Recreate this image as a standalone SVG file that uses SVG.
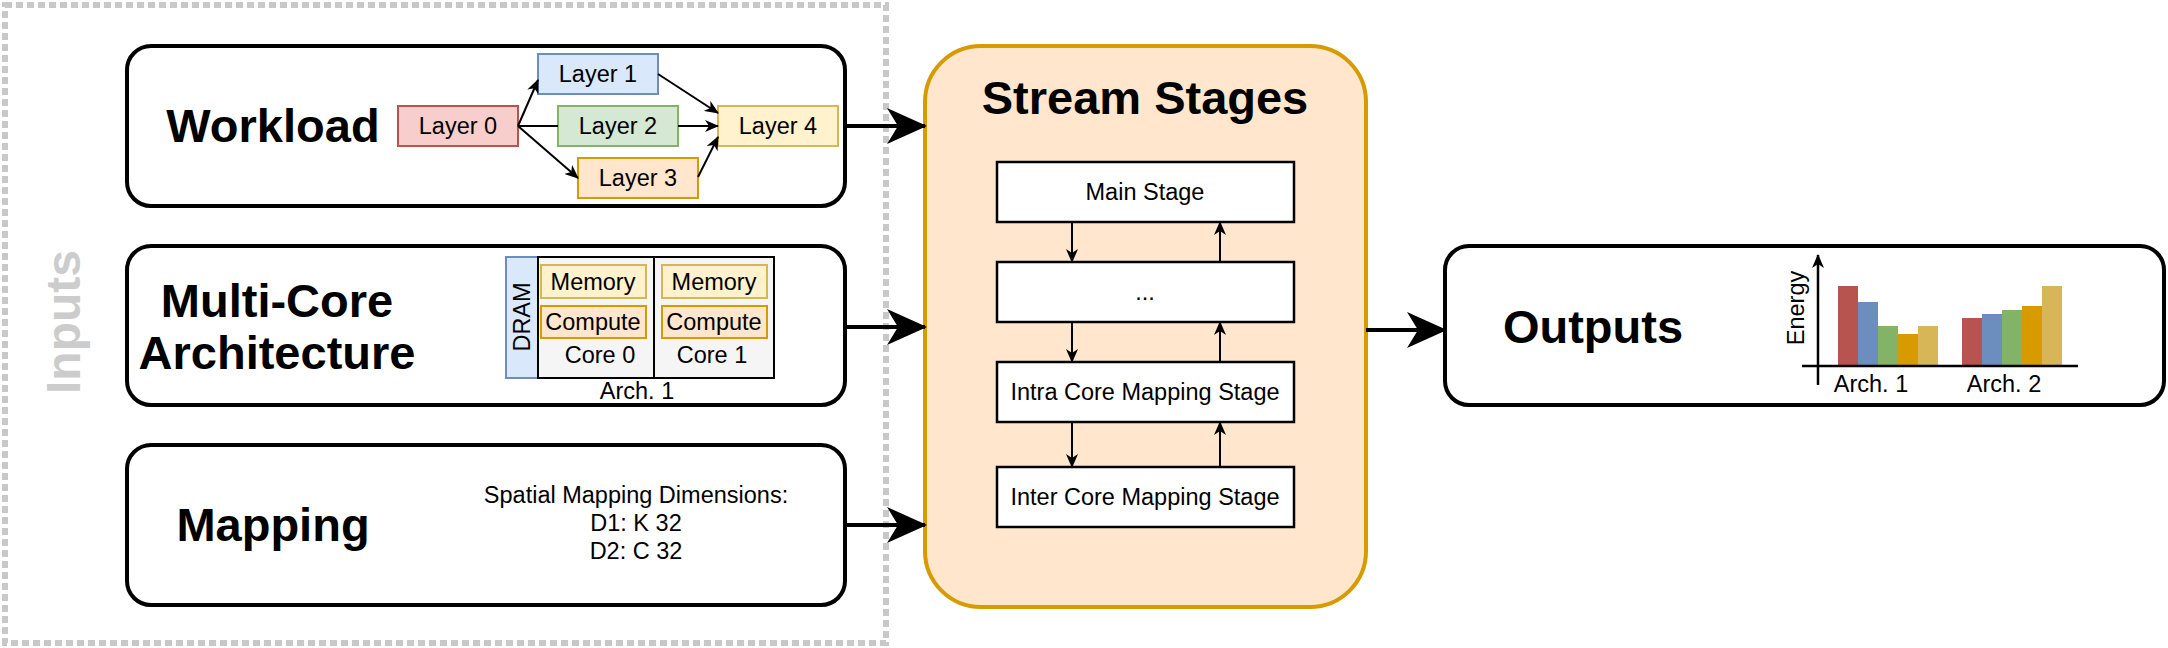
<svg xmlns="http://www.w3.org/2000/svg" width="2168" height="648" viewBox="0 0 2168 648">
<defs>
<style>
.box{fill:#ffffff;stroke:#000000;stroke-width:4}
.big{font-family:"Liberation Sans",Arial,sans-serif;font-weight:bold;font-size:47px;fill:#000000;text-anchor:middle}
.sm{font-family:"Liberation Sans",Arial,sans-serif;font-size:23.5px;fill:#000000;text-anchor:middle}
.thick{stroke:#000000;stroke-width:4;fill:none}
.thin{stroke:#000000;stroke-width:2;fill:none}
.stg{fill:#ffffff;stroke:#000000;stroke-width:2.5}
</style>
<marker id="bigArrow" viewBox="0 0 40 36" refX="38" refY="18" markerWidth="40" markerHeight="36" markerUnits="userSpaceOnUse" orient="auto">
<path d="M0,0 L40,18 L0,36 L11,18 Z" fill="#000000"/>
</marker>
<marker id="smArrow" viewBox="0 0 14 12" refX="13" refY="6" markerWidth="14" markerHeight="12" markerUnits="userSpaceOnUse" orient="auto">
<path d="M0,0 L14,6 L0,12 L4,6 Z" fill="#000000"/>
</marker>
</defs>
<rect width="2168" height="648" fill="#ffffff"/>

<g id="inputs">
<rect x="5" y="5" width="881" height="638" fill="none" stroke="#c8c8c8" stroke-width="6" stroke-dasharray="7 4"/>
<text transform="translate(80,322) rotate(-90)" class="big" style="fill:#cccccc;font-size:48px">Inputs</text>
</g>

<g id="workload">
<rect class="box" x="127" y="46" width="718" height="160" rx="24"/>
<text class="big" x="273" y="142">Workload</text>
<g id="layer0"><rect x="398" y="106" width="120" height="40" fill="#f8cecc" stroke="#b85450" stroke-width="2"/><text class="sm" x="458" y="134">Layer 0</text></g>
<g id="layer1"><rect x="538" y="54" width="120" height="40" fill="#dae8fc" stroke="#6c8ebf" stroke-width="2"/><text class="sm" x="598" y="82">Layer 1</text></g>
<g id="layer2"><rect x="558" y="106" width="120" height="40" fill="#d5e8d4" stroke="#82b366" stroke-width="2"/><text class="sm" x="618" y="134">Layer 2</text></g>
<g id="layer3"><rect x="578" y="158" width="120" height="40" fill="#ffe6cc" stroke="#d79b00" stroke-width="2"/><text class="sm" x="638" y="186">Layer 3</text></g>
<g id="layer4"><rect x="718" y="106" width="120" height="40" fill="#fff2cc" stroke="#d6b656" stroke-width="2"/><text class="sm" x="778" y="134">Layer 4</text></g>
</g>

<g id="architecture">
<rect class="box" x="127" y="246" width="718" height="159" rx="24"/>
<text class="big" x="277" y="317">Multi-Core</text>
<text class="big" x="277" y="369">Architecture</text>
<rect x="506" y="257" width="32" height="121" fill="#dae8fc" stroke="#6c8ebf" stroke-width="2"/>
<text class="sm" transform="translate(530,317) rotate(-90)">DRAM</text>
<g id="core0">
<rect x="538" y="257" width="116" height="121" fill="#f5f5f5" stroke="#000000" stroke-width="2"/>
<rect x="541" y="265" width="105" height="33" fill="#fff2cc" stroke="#d6b656" stroke-width="2"/>
<text class="sm" x="593" y="290">Memory</text>
<rect x="541" y="306" width="105" height="32" fill="#ffe6cc" stroke="#d79b00" stroke-width="2"/>
<text class="sm" x="593" y="330">Compute</text>
<text class="sm" x="600" y="363">Core 0</text>
</g>
<g id="core1">
<rect x="654" y="257" width="120" height="121" fill="#f5f5f5" stroke="#000000" stroke-width="2"/>
<rect x="662" y="265" width="105" height="33" fill="#fff2cc" stroke="#d6b656" stroke-width="2"/>
<text class="sm" x="714" y="290">Memory</text>
<rect x="662" y="306" width="105" height="32" fill="#ffe6cc" stroke="#d79b00" stroke-width="2"/>
<text class="sm" x="714" y="330">Compute</text>
<text class="sm" x="712" y="363">Core 1</text>
</g>
<text class="sm" x="637" y="399">Arch. 1</text>
</g>

<g id="mapping">
<rect class="box" x="127" y="445" width="718" height="160" rx="24"/>
<text class="big" x="273" y="541">Mapping</text>
<text class="sm" x="636" y="503">Spatial Mapping Dimensions:</text>
<text class="sm" x="636" y="531">D1: K 32</text>
<text class="sm" x="636" y="559">D2: C 32</text>
</g>

<g id="stream-stages">
<rect x="925" y="46" width="441" height="561" rx="56" fill="#ffe6cc" stroke="#d79b00" stroke-width="4"/>
<text class="big" x="1145" y="114">Stream Stages</text>
<g id="main-stage"><rect class="stg" x="997" y="162" width="297" height="60"/><text class="sm" x="1145" y="200">Main Stage</text></g>
<g id="dots-stage"><rect class="stg" x="997" y="262" width="297" height="60"/><text class="sm" x="1145" y="300">...</text></g>
<g id="intra-stage"><rect class="stg" x="997" y="362" width="297" height="60"/><text class="sm" x="1145" y="400">Intra Core Mapping Stage</text></g>
<g id="inter-stage"><rect class="stg" x="997" y="467" width="297" height="60"/><text class="sm" x="1145" y="505">Inter Core Mapping Stage</text></g>
</g>

<g id="outputs">
<rect class="box" x="1445" y="246" width="719" height="159" rx="24"/>
<text class="big" x="1593" y="343">Outputs</text>
<g id="chart">
<rect x="1838" y="286" width="20" height="80" fill="#b85450"/>
<rect x="1858" y="302" width="20" height="64" fill="#6c8ebf"/>
<rect x="1878" y="326" width="20" height="40" fill="#82b366"/>
<rect x="1898" y="334" width="20" height="32" fill="#d79b00"/>
<rect x="1918" y="326" width="20" height="40" fill="#d6b656"/>
<rect x="1962" y="318" width="20" height="48" fill="#b85450"/>
<rect x="1982" y="314" width="20" height="52" fill="#6c8ebf"/>
<rect x="2002" y="310" width="20" height="56" fill="#82b366"/>
<rect x="2022" y="306" width="20" height="60" fill="#d79b00"/>
<rect x="2042" y="286" width="20" height="80" fill="#d6b656"/>
<line x1="1802" y1="366" x2="2078" y2="366" stroke="#000000" stroke-width="2.5"/>
<line x1="1818" y1="385" x2="1818" y2="255" stroke="#000000" stroke-width="2.5" marker-end="url(#smArrow)"/>
<text class="sm" transform="translate(1804,308) rotate(-90)">Energy</text>
<text class="sm" x="1871" y="392">Arch. 1</text>
<text class="sm" x="2004" y="392">Arch. 2</text>
</g>
</g>

<g id="connectors">
<line class="thick" x1="845" y1="126" x2="925" y2="126" marker-end="url(#bigArrow)"/>
<line class="thick" x1="845" y1="327" x2="925" y2="327" marker-end="url(#bigArrow)"/>
<line class="thick" x1="845" y1="525" x2="925" y2="525" marker-end="url(#bigArrow)"/>
<line class="thick" x1="1366" y1="330" x2="1445" y2="330" marker-end="url(#bigArrow)"/>
<line class="thin" x1="518" y1="126" x2="538" y2="80" marker-end="url(#smArrow)"/>
<line class="thin" x1="518" y1="126" x2="558" y2="126"/>
<line class="thin" x1="518" y1="126" x2="578" y2="178" marker-end="url(#smArrow)"/>
<line class="thin" x1="658" y1="74" x2="718" y2="113" marker-end="url(#smArrow)"/>
<line class="thin" x1="678" y1="126" x2="718" y2="126" marker-end="url(#smArrow)"/>
<line class="thin" x1="698" y1="177" x2="718" y2="137" marker-end="url(#smArrow)"/>
<line class="thin" x1="1072" y1="222" x2="1072" y2="262" marker-end="url(#smArrow)"/>
<line class="thin" x1="1072" y1="322" x2="1072" y2="362" marker-end="url(#smArrow)"/>
<line class="thin" x1="1072" y1="422" x2="1072" y2="467" marker-end="url(#smArrow)"/>
<line class="thin" x1="1220" y1="262" x2="1220" y2="222" marker-end="url(#smArrow)"/>
<line class="thin" x1="1220" y1="362" x2="1220" y2="322" marker-end="url(#smArrow)"/>
<line class="thin" x1="1220" y1="467" x2="1220" y2="422" marker-end="url(#smArrow)"/>
</g>
</svg>
